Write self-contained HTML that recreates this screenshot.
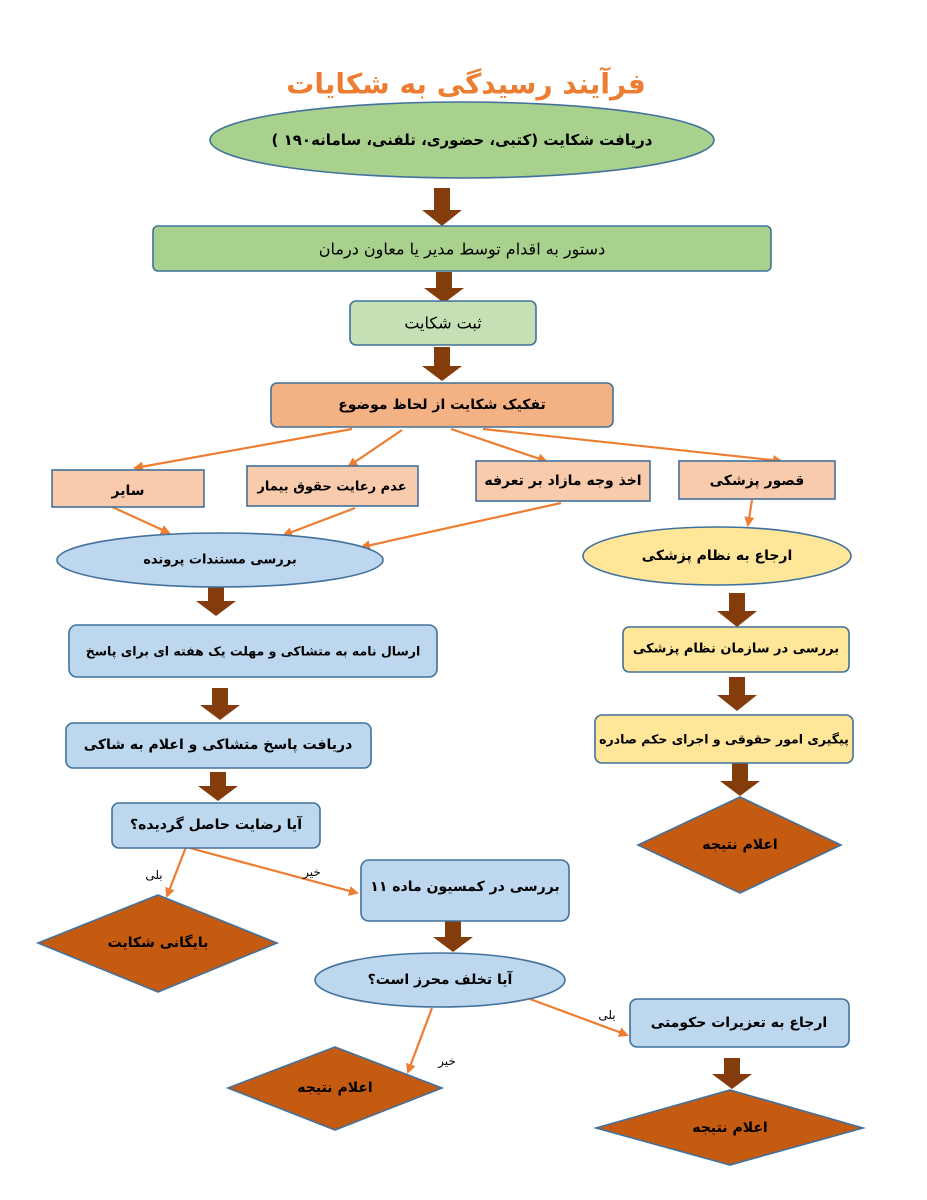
<!DOCTYPE html>
<html><head><meta charset="utf-8"><style>
html,body{margin:0;padding:0;background:#fff;}
svg{display:block;}
text{font-family:"DejaVu Sans","Liberation Sans",sans-serif;text-anchor:middle;dominant-baseline:central;direction:rtl;unicode-bidi:embed;}
.b{font-weight:bold;font-size:14px;fill:#000;}
.n{stroke:#41719C;stroke-width:1.6;}
</style></head><body>
<svg width="927" height="1200" viewBox="0 0 927 1200" xmlns="http://www.w3.org/2000/svg">
<defs>
<marker id="ah" markerWidth="10" markerHeight="10" refX="8" refY="5" orient="auto" markerUnits="userSpaceOnUse">
<path d="M0,0 L10,5 L0,10 z" fill="#ED7D31"/></marker>
</defs>
<text x="466" y="84" style="font-size:28px;font-weight:bold;fill:#ED7D31">فرآیند رسیدگی به شکایات</text>

<g fill="#843C0C">
<path d="M434,188 h16 v22 h12 l-20,16 l-20,-16 h12 z"/>
<path d="M436,272 h16 v16 h12 l-20,15 l-20,-15 h12 z"/>
<path d="M434,347 h16 v19 h12 l-20,15 l-20,-15 h12 z"/>
<path d="M208,585 h16 v16 h12 l-20,15 l-20,-15 h12 z"/>
<path d="M212,688 h16 v17 h12 l-20,15 l-20,-15 h12 z"/>
<path d="M210,772 h16 v14 h12 l-20,15 l-20,-15 h12 z"/>
<path d="M729,593 h16 v18 h12 l-20,16 l-20,-16 h12 z"/>
<path d="M729,677 h16 v18 h12 l-20,16 l-20,-16 h12 z"/>
<path d="M732,763 h16 v18 h12 l-20,15 l-20,-15 h12 z"/>
<path d="M445,919 h16 v18 h12 l-20,15 l-20,-15 h12 z"/>
<path d="M724,1058 h16 v16 h12 l-20,15 l-20,-15 h12 z"/>
</g>

<ellipse cx="462" cy="140" rx="252" ry="38" fill="#A9D18E" class="n"/>
<text x="462" y="140" class="b" style="font-size:15px">دریافت شکایت (کتبی، حضوری، تلفنی، سامانه۱۹۰ )</text>

<rect x="153" y="226" width="618" height="45" rx="5" fill="#A9D18E" class="n"/>
<text x="462" y="249" style="font-size:16px">دستور به اقدام توسط مدیر یا معاون درمان</text>

<rect x="350" y="301" width="186" height="44" rx="6" fill="#C5E0B4" class="n"/>
<text x="443" y="323" style="font-size:16px">ثبت شکایت</text>

<rect x="271" y="383" width="342" height="44" rx="6" fill="#F4B183" class="n"/>
<text x="442" y="405" class="b">تفکیک شکایت از لحاظ موضوع</text>

<g stroke="#ED7D31" stroke-width="2.2" fill="none" marker-end="url(#ah)">
<line x1="352" y1="429" x2="135" y2="468"/>
<line x1="402" y1="430" x2="349" y2="466"/>
<line x1="451" y1="429" x2="546" y2="461"/>
<line x1="483" y1="429" x2="781" y2="461"/>
<line x1="108" y1="505" x2="169" y2="533"/>
<line x1="355" y1="508" x2="284" y2="535"/>
<line x1="561" y1="503" x2="362" y2="547"/>
<line x1="752" y1="500" x2="748" y2="525"/>
<line x1="186" y1="847" x2="167" y2="896"/>
<line x1="186" y1="847" x2="357" y2="893"/>
<line x1="432" y1="1008" x2="408" y2="1072"/>
<line x1="530" y1="999" x2="627" y2="1035"/>
</g>

<g fill="#F8CBAD" class="n">
<rect x="52" y="470" width="152" height="37"/>
<rect x="247" y="466" width="171" height="40"/>
<rect x="476" y="461" width="174" height="40"/>
<rect x="679" y="461" width="156" height="38"/>
</g>
<text x="128" y="491" class="b">سایر</text>
<text x="332" y="487" class="b" style="font-size:13px">عدم رعایت حقوق بیمار</text>
<text x="563" y="481" class="b">اخذ وجه مازاد بر تعرفه</text>
<text x="757" y="481" class="b">قصور پزشکی</text>

<ellipse cx="220" cy="560" rx="163" ry="27" fill="#BDD7EE" class="n"/>
<text x="220" y="560" class="b" style="font-size:13px">بررسی مستندات پرونده</text>

<ellipse cx="717" cy="556" rx="134" ry="29" fill="#FFE699" class="n"/>
<text x="717" y="556" class="b">ارجاع به نظام پزشکی</text>

<rect x="69" y="625" width="368" height="52" rx="8" fill="#BDD7EE" class="n"/>
<text x="253" y="651" class="b" style="font-size:12.5px">ارسال نامه به متشاکی و مهلت یک هفته  ای برای پاسخ</text>

<rect x="66" y="723" width="305" height="45" rx="7" fill="#BDD7EE" class="n"/>
<text x="218" y="745" class="b">دریافت پاسخ متشاکی و اعلام به شاکی</text>

<rect x="623" y="627" width="226" height="45" rx="6" fill="#FFE699" class="n"/>
<text x="736" y="649" class="b" style="font-size:13px">بررسی در سازمان نظام پزشکی</text>

<rect x="595" y="715" width="258" height="48" rx="7" fill="#FFE699" class="n"/>
<text x="724" y="739" class="b" style="font-size:12.5px">پیگیری امور حقوقی و اجرای حکم صادره</text>

<rect x="112" y="803" width="208" height="45" rx="7" fill="#BDD7EE" class="n"/>
<text x="216" y="825" class="b">آیا رضایت حاصل گردیده؟</text>

<g fill="#C55A11" class="n">
<polygon points="740,797 841,845 740,893 638,845"/>
<polygon points="158,895 277,943 158,992 38,943"/>
<polygon points="335,1047 442,1088 335,1130 228,1088"/>
<polygon points="730,1090 863,1128 730,1165 596,1128"/>
</g>
<text x="740" y="845" class="b">اعلام نتیجه</text>
<text x="158" y="943" class="b">بایگانی شکایت</text>
<text x="335" y="1088" class="b">اعلام نتیجه</text>
<text x="730" y="1128" class="b">اعلام نتیجه</text>

<text x="154" y="875" style="font-size:12px">بلی</text>
<text x="312" y="872" style="font-size:12px">خیر</text>
<text x="447" y="1061" style="font-size:12px">خیر</text>
<text x="607" y="1015" style="font-size:12px">بلی</text>

<rect x="361" y="860" width="208" height="61" rx="8" fill="#BDD7EE" class="n"/>
<text x="465" y="887" class="b">بررسی در کمسیون ماده ۱۱</text>

<ellipse cx="440" cy="980" rx="125" ry="27" fill="#BDD7EE" class="n"/>
<text x="440" y="980" class="b">آیا تخلف محرز  است؟</text>

<rect x="630" y="999" width="219" height="48" rx="7" fill="#BDD7EE" class="n"/>
<text x="739" y="1023" class="b">ارجاع به تعزیرات حکومتی</text>
</svg>
</body></html>
